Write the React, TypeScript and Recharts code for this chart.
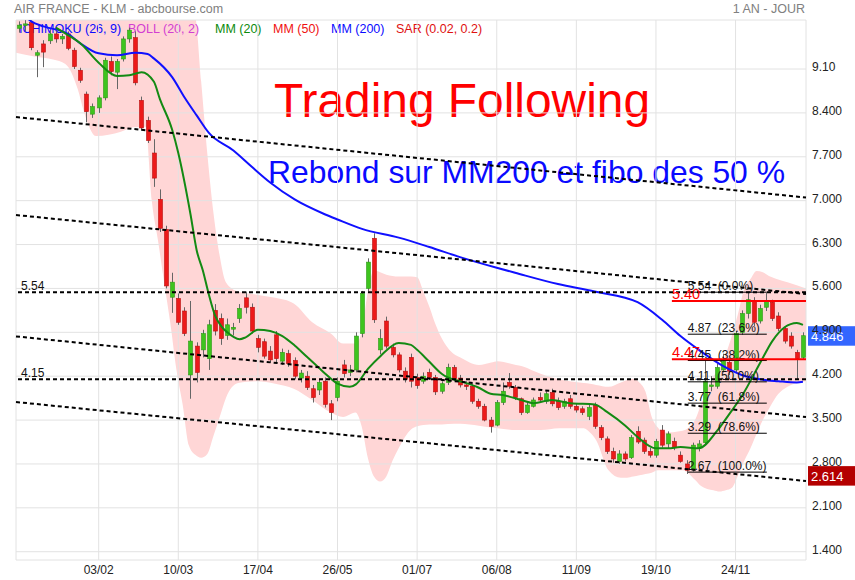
import React from 'react';
import {
    ComposedChart,
    Bar,
    Line,
    Area,
    XAxis,
    YAxis,
    CartesianGrid,
    ReferenceLine
} from 'recharts';

const FONT = '"Liberation Sans", Arial, sans-serif';

// candles, two sessions each
const opens = [
    9.75, 9.80, 9.84, 9.32, 9.50, 9.55, 9.66, 9.58, 9.66, 9.40, 9.08, 8.70, 8.38, 8.48, 8.64, 9.22, 9.05, 9.26, 9.58, 9.60,
    8.60, 8.28, 7.76, 7.02, 6.54, 5.46, 5.44, 5.24, 4.22, 4.68, 4.62, 4.48, 5.25, 5.12, 4.85, 4.95, 5.12, 5.45, 5.30, 4.80,
    4.75, 4.60, 4.86, 4.44, 4.56, 4.45, 4.17, 4.20, 4.00, 3.98, 4.12, 3.76, 3.86, 4.38, 4.26, 4.30, 4.88, 5.60, 6.40, 4.62,
    5.08, 4.66, 4.54, 4.28, 4.50, 4.18, 4.12, 4.26, 4.18, 3.96, 4.10, 4.34, 4.17, 4.06, 4.04, 3.80, 3.72, 3.50, 3.42, 3.78,
    4.10, 4.02, 3.84, 3.62, 3.72, 3.86, 3.80, 3.94, 3.80, 3.72, 3.84, 3.72, 3.68, 3.56, 3.74, 3.38, 3.20, 3.00, 2.84, 2.96,
    2.90, 3.32, 3.18, 3.00, 2.94, 3.34, 3.12, 3.16, 2.94, 2.80, 2.72, 3.06, 3.14, 4.04, 4.04, 4.30, 4.42, 4.30, 4.90, 5.20,
    5.40, 5.08, 5.30, 5.38, 5.16, 4.96, 4.84, 4.58, 4.50
];
const highs = [
    9.86, 9.88, 9.87, 9.40, 9.56, 9.72, 9.72, 9.66, 9.70, 9.44, 9.12, 8.74, 8.55, 8.68, 9.28, 9.30, 9.26, 9.62, 9.76, 9.70,
    8.66, 8.34, 7.98, 7.18, 6.60, 5.85, 5.52, 5.30, 5.40, 4.74, 4.94, 5.10, 5.35, 5.20, 5.12, 5.05, 5.35, 5.55, 5.36, 4.86,
    4.80, 4.68, 4.92, 4.64, 4.62, 4.50, 4.30, 4.28, 4.06, 4.14, 4.18, 3.82, 4.18, 4.46, 4.38, 4.90, 5.56, 6.08, 6.48, 4.95,
    5.15, 4.72, 4.58, 4.34, 4.56, 4.24, 4.26, 4.32, 4.22, 4.12, 4.40, 4.38, 4.22, 4.12, 4.08, 3.84, 3.76, 3.55, 3.82, 4.10,
    4.25, 4.06, 3.86, 3.78, 3.86, 3.94, 3.96, 4.00, 3.86, 3.84, 3.90, 3.76, 3.72, 3.76, 3.78, 3.42, 3.24, 3.06, 3.02, 3.00,
    3.26, 3.40, 3.22, 3.06, 3.20, 3.42, 3.32, 3.22, 3.00, 2.86, 3.14, 3.18, 4.46, 4.20, 4.40, 4.56, 4.48, 4.92, 5.25, 5.54,
    5.46, 5.34, 5.53, 5.42, 5.22, 5.00, 4.90, 4.62, 4.90
];
const lows = [
    9.68, 9.70, 9.40, 8.97, 9.13, 9.50, 9.52, 9.50, 9.40, 9.10, 8.88, 8.25, 8.32, 8.40, 8.60, 9.00, 8.78, 9.22, 9.52, 8.84,
    8.12, 7.92, 7.22, 6.50, 5.60, 5.21, 5.02, 4.84, 3.84, 4.10, 4.50, 4.30, 4.85, 4.70, 4.78, 4.85, 5.05, 5.20, 4.88, 4.58,
    4.48, 4.42, 4.42, 4.38, 4.35, 4.15, 4.10, 3.98, 3.78, 3.90, 3.70, 3.50, 3.80, 4.18, 4.20, 4.26, 4.82, 5.55, 5.05, 4.55,
    4.64, 4.50, 4.26, 4.10, 4.02, 4.00, 4.08, 4.14, 3.90, 3.92, 4.06, 4.12, 4.02, 3.98, 3.76, 3.68, 3.48, 3.30, 3.40, 3.74,
    4.00, 3.82, 3.58, 3.60, 3.70, 3.78, 3.76, 3.72, 3.66, 3.68, 3.68, 3.62, 3.58, 3.50, 3.36, 3.18, 2.96, 2.82, 2.80, 2.84,
    2.88, 3.12, 2.96, 2.90, 2.90, 3.06, 3.05, 3.02, 2.82, 2.64, 2.68, 3.00, 3.10, 3.96, 4.00, 4.26, 4.22, 4.26, 4.86, 5.12,
    5.00, 5.04, 5.24, 5.08, 4.92, 4.72, 4.64, 4.14, 4.46
];
const closes = [
    9.80, 9.82, 9.44, 9.36, 9.37, 9.66, 9.58, 9.62, 9.43, 9.14, 8.92, 8.42, 8.50, 8.64, 9.24, 9.06, 9.22, 9.58, 9.72, 8.88,
    8.16, 7.96, 7.36, 6.56, 5.64, 5.70, 5.06, 4.88, 4.76, 4.26, 4.88, 5.02, 4.92, 4.80, 5.02, 4.98, 5.28, 5.30, 4.92, 4.66,
    4.52, 4.46, 4.48, 4.58, 4.40, 4.20, 4.25, 4.02, 3.86, 4.10, 3.75, 3.62, 4.12, 4.24, 4.30, 4.84, 5.52, 6.02, 5.10, 4.80,
    4.68, 4.54, 4.30, 4.15, 4.12, 4.05, 4.20, 4.18, 3.95, 4.08, 4.34, 4.16, 4.06, 4.04, 3.80, 3.72, 3.50, 3.40, 3.78, 3.96,
    4.04, 3.86, 3.62, 3.74, 3.82, 3.82, 3.92, 3.76, 3.70, 3.80, 3.72, 3.66, 3.62, 3.70, 3.40, 3.22, 3.00, 2.88, 2.96, 2.88,
    3.22, 3.15, 3.00, 2.94, 3.16, 3.10, 3.28, 3.06, 2.84, 2.70, 3.10, 3.12, 4.12, 4.06, 4.34, 4.44, 4.28, 4.88, 5.20, 5.42,
    5.06, 5.28, 5.40, 5.12, 4.96, 4.76, 4.68, 4.48, 4.846
];

// [candle index, value]
const mm20: [number, number][] = [
    [6, 9.76], [8, 9.64], [10, 9.51], [13, 9.2], [16, 8.99], [18, 9.0], [20, 9.05], [22, 8.9], [23, 8.62], [25, 8.13],
    [26, 7.76], [28, 6.78], [29, 6.21], [30, 5.89], [31, 5.5], [32, 5.17], [33, 5.0], [34, 4.9], [36, 4.79], [37, 4.82],
    [39, 4.94], [41, 4.92], [43, 4.84], [45, 4.69], [47, 4.51], [49, 4.33], [50, 4.24], [52, 4.08], [54, 4.03], [55, 4.07],
    [57, 4.32], [59, 4.52], [62, 4.73], [64, 4.7], [65, 4.62], [67, 4.43], [69, 4.24], [70, 4.18], [72, 4.12], [75, 4.02],
    [77, 3.92], [79, 3.9], [82, 3.82], [84, 3.77], [87, 3.82], [90, 3.77], [94, 3.75], [96, 3.63], [99, 3.41], [101, 3.23],
    [104, 3.05], [106, 3.05], [108, 3.07], [111, 3.05], [114, 3.33], [116, 3.6], [118, 3.88], [121, 4.41], [123, 4.76],
    [125, 4.98], [127, 5.05], [128, 5.02]
];
const mm200: [number, number][] = [
    [0, 10.05], [2, 9.86], [4, 9.78], [8, 9.66], [10, 9.51], [13, 9.35], [16, 9.32], [19, 9.36], [21, 9.34], [22, 9.27],
    [25, 8.97], [27, 8.65], [29, 8.36], [31, 8.08], [35, 7.8], [38, 7.54], [41, 7.29], [45, 7.02], [50, 6.78], [52, 6.7],
    [56, 6.55], [62, 6.41], [67, 6.26], [72, 6.1], [78, 5.93], [81, 5.85], [88, 5.67], [94, 5.55], [101, 5.38], [105, 5.1],
    [108, 4.84], [111, 4.62], [115, 4.36], [118, 4.22], [121, 4.15], [124, 4.12], [127, 4.1], [128, 4.11]
];
// [candle index, lower band, upper band]
const boll: [number, number, number][] = [
    [0, 9.36, 10.05], [3, 9.3, 10.05], [6, 9.25, 10.05], [8, 9.18, 10.05], [10, 8.78, 10.05], [11, 8.42, 10.05],
    [13, 8.03, 10.05], [15, 8.05, 10.05], [17, 8.1, 10.05], [19, 8.17, 10.05], [21, 8.18, 10.05], [22, 7.0, 10.05],
    [23, 6.37, 10.05], [24, 5.7, 10.05], [25, 5.05, 10.05], [26, 4.3, 10.05], [27, 3.75, 10.05], [28, 3.1, 10.05],
    [29, 2.95, 9.95], [30, 2.9, 8.9], [31, 2.96, 7.75], [32, 3.25, 6.8], [33, 3.55, 6.12], [34, 3.85, 5.7],
    [36, 4.09, 5.55], [39, 4.12, 5.5], [42, 4.08, 5.45], [45, 4.0, 5.36], [48, 3.82, 5.06], [51, 3.62, 4.88],
    [53, 3.55, 4.72], [55, 3.62, 4.72], [56, 3.4, 4.9], [57, 2.9, 5.55], [58, 2.6, 5.89], [59, 2.52, 5.86],
    [60, 2.6, 5.82], [61, 2.85, 5.8], [62, 3.05, 5.79], [64, 3.35, 5.79], [65, 3.4, 5.78], [66, 3.42, 5.55],
    [67, 3.43, 5.3], [68, 3.43, 5.02], [69, 3.43, 4.8], [71, 3.44, 4.55], [72, 3.44, 4.5], [75, 3.41, 4.38],
    [77, 3.38, 4.42], [78, 3.37, 4.44], [81, 3.34, 4.38], [82, 3.34, 4.36], [84, 3.34, 4.28], [85, 3.34, 4.24],
    [88, 3.37, 4.15], [92, 3.37, 4.09], [93, 3.3, 4.08], [94, 3.18, 4.06], [96, 2.7, 4.03], [98, 2.58, 4.1],
    [99, 2.58, 4.14], [100, 2.6, 4.16], [101, 2.62, 4.1], [102, 2.64, 3.95], [103, 2.66, 3.55], [104, 2.7, 3.38],
    [105, 2.7, 3.3], [108, 2.7, 3.33], [110, 2.55, 3.5], [111, 2.45, 3.75], [113, 2.38, 4.2], [114, 2.36, 4.32],
    [115, 2.38, 4.55], [116, 2.42, 4.85], [117, 2.62, 5.2], [118, 2.85, 5.6], [119, 3.05, 5.75], [120, 3.28, 5.88],
    [121, 3.5, 5.86], [122, 3.68, 5.8], [123, 3.85, 5.76], [125, 4.03, 5.7], [128, 4.12, 5.6]
];

const dateTicks = [13, 26, 39, 52, 65, 78, 91, 104, 117];
const dateLabels = ['03/02', '10/03', '17/04', '26/05', '01/07', '06/08', '11/09', '19/10', '24/11'];
const priceTicks = [1.4, 2.1, 2.8, 3.5, 4.2, 4.9, 5.6, 6.3, 7.0, 7.7, 8.4, 9.1];
const priceDomain = [1.268, 9.882];

// channel lines: price at left edge, price at right edge
const channels: [number, number][] = [[8.334, 7.05], [6.771, 5.511], [4.835, 3.549], [3.788, 2.528]];
const supports = [5.54, 4.15];
const redLevels = [5.4, 4.47];
const fibLevels = [5.54, 4.87, 4.45, 4.11, 3.77, 3.29, 2.67];
const fibPct = ['0.0%', '23.6%', '38.2%', '50.0%', '61.8%', '78.6%', '100.0%'];
const lastPrice = 4.846;
const sarPrice = 2.614;

const legend = [
    { text: 'ICHIMOKU (26, 9)', x: 19, color: '#0a0aff' },
    { text: 'BOLL (20, 2)', x: 128, color: '#d23fd2' },
    { text: 'MM (20)', x: 215, color: '#0b8a0b' },
    { text: 'MM (50)', x: 273, color: '#f01010' },
    { text: 'MM (200)', x: 331, color: '#0a0aff' },
    { text: 'SAR (0.02, 0.2)', x: 396, color: '#e01010' }
];

const rows = closes.map((c, i) => ({
    i,
    open: opens[i],
    high: highs[i],
    low: lows[i],
    close: c,
    hl: [lows[i], highs[i]],
    mm20: null as number | null,
    mm200: null as number | null,
    bb: null as number[] | null
}));
mm20.forEach(([i, v]) => { rows[i].mm20 = v; });
mm200.forEach(([i, v]) => { rows[i].mm200 = v; });
boll.forEach(([i, lo, hi]) => { rows[i].bb = [lo, hi]; });

const lastIdx = closes.length - 0.5;

const Candle = (props: any) => {
    const { x, y, width, height, payload } = props;
    if (!payload || height == null) return null;
    const { open, close, high, low } = payload;
    const k = height / (high - low || 1);
    const cx = Math.round(x + width / 2) + 0.5;
    const top = y + (high - Math.max(open, close)) * k;
    const bot = y + (high - Math.min(open, close)) * k;
    const up = close >= open;
    return (
        <g>
            <line x1={cx} x2={cx} y1={y} y2={y + height} stroke="#666" strokeWidth={1} />
            <rect
                x={cx - 2}
                y={top}
                width={4}
                height={Math.max(1.5, bot - top)}
                fill={up ? '#3ec41e' : '#ec1a1a'}
                stroke={up ? '#2c9a14' : '#b81010'}
                strokeWidth={0.6}
            />
        </g>
    );
};

const YTick = (props: any) => {
    const { x, y, payload } = props;
    const v = payload.value;
    return (
        <text x={x} y={y + 2} fill="#222" fontSize={12} fontFamily={FONT} textAnchor="start">
            {Math.abs(v - 9.1) < 1e-6 ? '9.10' : v.toFixed(3)}
        </text>
    );
};

const LevelLabel = (props: any) => {
    const { viewBox, text, color = '#111', size = 12, dx = 0 } = props;
    if (!viewBox) return null;
    return (
        <text x={viewBox.x + dx} y={viewBox.y - 2} fill={color} fontSize={size} fontFamily={FONT} style={{ whiteSpace: 'pre' }}>
            {text}
        </text>
    );
};

const PriceTag = (props: any) => {
    const { viewBox, text, bg } = props;
    if (!viewBox) return null;
    const x = viewBox.x + viewBox.width + 2;
    const y = viewBox.y;
    return (
        <g>
            <rect x={x} y={y - 9.5} width={47} height={19.5} fill={bg} />
            <text x={x + 3} y={y + 5} fill="#fff" fontSize={13} fontFamily={FONT}>{text}</text>
        </g>
    );
};

const layer = { position: 'absolute' as const, left: 0, top: 0 };

export default function App() {
    return (
        <div style={{ position: 'absolute', left: 0, top: 0, width: 855, height: 580, background: '#fff' }}>
            {/* bollinger band at the back */}
            <div style={layer}>
                <ComposedChart width={855} height={580} data={rows} margin={{ top: 20, right: 49, bottom: 20, left: 16 }}>
                    <XAxis dataKey="i" hide />
                    <YAxis domain={priceDomain} allowDataOverflow hide />
                    <Area
                        dataKey="bb"
                        type="monotone"
                        stroke="none"
                        fill="#ffd6d6"
                        fillOpacity={1}
                        connectNulls
                        isAnimationActive={false}
                    />
                </ComposedChart>
            </div>

            {/* header, legend and comments */}
            <svg width={855} height={580} style={layer}>
                <text x={14} y={13} fill="#808080" fontSize={12.5} fontFamily={FONT}>AIR FRANCE - KLM - abcbourse.com</text>
                <text x={805} y={13} fill="#808080" fontSize={12.5} fontFamily={FONT} textAnchor="end">1 AN - JOUR</text>
                {legend.map(l => (
                    <text key={l.text} x={l.x} y={33} fill={l.color} fontSize={12.5} fontFamily={FONT}>{l.text}</text>
                ))}
                <text x={274} y={117} fill="#ff0000" fontSize={48} fontFamily={FONT} textLength={376} lengthAdjust="spacingAndGlyphs">
                    Trading Following
                </text>
                <text x={268} y={183} fill="#0a0aff" fontSize={32} fontFamily={FONT} textLength={517} lengthAdjust="spacingAndGlyphs">
                    Rebond sur MM200 et fibo des 50 %
                </text>
            </svg>

            {/* candles, averages, levels and axes */}
            <div style={layer}>
                <ComposedChart width={855} height={580} data={rows} margin={{ top: 20, right: 0, bottom: 0, left: 16 }}>
                    <CartesianGrid stroke="#e2e2e2" />
                    <XAxis
                        dataKey="i"
                        ticks={dateTicks}
                        interval={0}
                        height={20}
                        axisLine={false}
                        tickLine={false}
                        tickSize={0}
                        tickMargin={5}
                        tickFormatter={(v: number) => dateLabels[dateTicks.indexOf(v)] ?? ''}
                        tick={{ fontSize: 12, fill: '#222', fontFamily: FONT }}
                    />
                    <XAxis xAxisId="num" type="number" dataKey="i" domain={[-0.5, lastIdx]} hide allowDataOverflow />
                    <YAxis
                        orientation="right"
                        domain={priceDomain}
                        ticks={priceTicks}
                        allowDataOverflow
                        width={49}
                        axisLine={false}
                        tickLine={false}
                        tickSize={4}
                        tickMargin={2}
                        tick={<YTick />}
                    />
                    <Line dataKey="mm200" type="monotone" stroke="#1010ff" strokeWidth={2} dot={false} connectNulls isAnimationActive={false} />
                    <Bar dataKey="hl" barSize={4} shape={<Candle />} isAnimationActive={false} />
                    <Line dataKey="mm20" type="monotone" stroke="#138a13" strokeWidth={2} dot={false} connectNulls isAnimationActive={false} />
                    {channels.map(([a, b], k) => (
                        <ReferenceLine
                            key={'ch' + k}
                            xAxisId="num"
                            segment={[{ x: -0.5, y: a }, { x: lastIdx, y: b }]}
                            stroke="#000"
                            strokeWidth={2}
                            strokeDasharray="4 3"
                        />
                    ))}
                    {supports.map(v => (
                        <ReferenceLine
                            key={'s' + v}
                            y={v}
                            stroke="#000"
                            strokeWidth={2}
                            strokeDasharray="4 3"
                            label={<LevelLabel text={v.toFixed(2)} dx={5} />}
                        />
                    ))}
                    {fibLevels.map((v, k) => (
                        <ReferenceLine
                            key={'f' + k}
                            xAxisId="num"
                            segment={[{ x: 109.2, y: v }, { x: 122.1, y: v }]}
                            stroke="#000"
                            strokeWidth={1}
                            label={<LevelLabel text={`${v.toFixed(2)}  (${fibPct[k]})`} />}
                        />
                    ))}
                    {redLevels.map(v => (
                        <ReferenceLine
                            key={'r' + v}
                            xAxisId="num"
                            segment={[{ x: 106.6, y: v }, { x: lastIdx, y: v }]}
                            stroke="#ff0000"
                            strokeWidth={2}
                            label={<LevelLabel text={v.toFixed(2)} color="#ff0000" size={14.5} />}
                        />
                    ))}
                    <ReferenceLine y={lastPrice} stroke="none" label={<PriceTag text="4.846" bg="#3366ff" />} />
                    <ReferenceLine y={sarPrice} stroke="none" label={<PriceTag text="2.614" bg="#b40000" />} />
                </ComposedChart>
            </div>
        </div>
    );
}
